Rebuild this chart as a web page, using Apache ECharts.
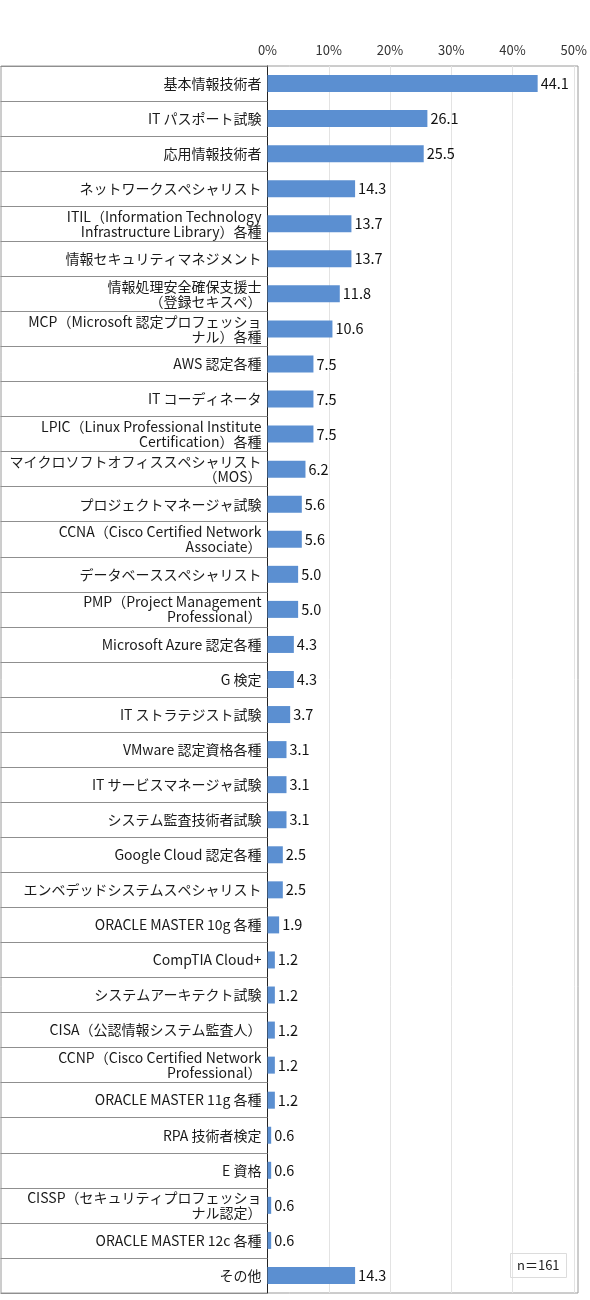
<!DOCTYPE html>
<html>
<head>
<meta charset="utf-8">
<script src="https://cdn.jsdelivr.net/npm/echarts@6/dist/echarts.min.js"></script>
<style>
html,body{margin:0;padding:0;background:#fff;}
#chart{width:590px;height:1300px;}
</style>
</head>
<body>
<div id="chart"></div>
<script>
const categories = [
  '基本情報技術者',
  'IT パスポート試験',
  '応用情報技術者',
  'ネットワークスペシャリスト',
  'ITIL（Information Technology\nInfrastructure Library）各種',
  '情報セキュリティマネジメント',
  '情報処理安全確保支援士\n（登録セキスペ）',
  'MCP（Microsoft 認定プロフェッショ\nナル）各種',
  'AWS 認定各種',
  'IT コーディネータ',
  'LPIC（Linux Professional Institute\nCertification）各種',
  'マイクロソフトオフィススペシャリスト\n（MOS）',
  'プロジェクトマネージャ試験',
  'CCNA（Cisco Certified Network\nAssociate）',
  'データベーススペシャリスト',
  'PMP（Project Management\nProfessional）',
  'Microsoft Azure 認定各種',
  'G 検定',
  'IT ストラテジスト試験',
  'VMware 認定資格各種',
  'IT サービスマネージャ試験',
  'システム監査技術者試験',
  'Google Cloud 認定各種',
  'エンベデッドシステムスペシャリスト',
  'ORACLE MASTER 10g 各種',
  'CompTIA Cloud+',
  'システムアーキテクト試験',
  'CISA（公認情報システム監査人）',
  'CCNP（Cisco Certified Network\nProfessional）',
  'ORACLE MASTER 11g 各種',
  'RPA 技術者検定',
  'E 資格',
  'CISSP（セキュリティプロフェッショ\nナル認定）',
  'ORACLE MASTER 12c 各種',
  'その他'
];
const values = [44.1, 26.1, 25.5, 14.3, 13.7, 13.7, 11.8, 10.6, 7.5, 7.5, 7.5, 6.2, 5.6, 5.6, 5.0, 5.0, 4.3, 4.3, 3.7, 3.1, 3.1, 3.1, 2.5, 2.5, 1.9, 1.2, 1.2, 1.2, 1.2, 1.2, 0.6, 0.6, 0.6, 0.6, 14.3];
const axisTicks = [0, 10, 20, 30, 40, 50];
const sampleNote = 'n＝161';

const FONT = '"Noto Sans CJK JP", "Noto Sans", sans-serif';
const chart = echarts.init(document.getElementById('chart'), null, {renderer: 'canvas'});
chart.setOption({
  animation: false,
  backgroundColor: '#fff',
  textStyle: {fontFamily: FONT},
  title: {
    text: sampleNote,
    left: 510, top: 1253,
    padding: [6, 7],
    borderColor: '#dcdcdc', borderWidth: 1,
    textStyle: {fontSize: 13, fontWeight: 'normal', color: '#222', fontFamily: FONT}
  },
  grid: [
    {left: 267.5, right: 13, top: 66, bottom: 7, show: false, containLabel: false},
    {left: 1, right: 12, top: 66, bottom: 7, show: true, borderColor: '#9a9a9a', borderWidth: 1, backgroundColor: 'transparent', containLabel: false}
  ],
  xAxis: [
    {
      type: 'value', gridIndex: 0, position: 'top',
      min: axisTicks[0], max: axisTicks[axisTicks.length - 1], interval: 10,
      axisLine: {show: false}, axisTick: {show: false},
      axisLabel: {formatter: '{value}%', fontSize: 13, color: '#333', margin: 9, fontFamily: FONT},
      splitLine: {show: true, lineStyle: {color: '#e3e3e3', width: 1}}
    },
    {type: 'value', gridIndex: 1, show: false}
  ],
  yAxis: [
    {
      type: 'category', gridIndex: 0, inverse: true, data: categories,
      axisLine: {show: true, lineStyle: {color: '#222', width: 1}},
      axisTick: {show: true, length: 267, lineStyle: {color: '#8f8f8f', width: 1}},
      axisLabel: {fontSize: 14, color: '#1a1a1a', margin: 6, lineHeight: 15, align: 'right', fontFamily: FONT, interval: 0},
      splitLine: {show: false}
    },
    {type: 'category', gridIndex: 1, show: false, data: ['']}
  ],
  series: [
    {
      type: 'bar', xAxisIndex: 0, yAxisIndex: 0,
      data: values,
      barWidth: 17,
      itemStyle: {color: '#5b8fd1'},
      label: {
        show: true, position: 'right', distance: 3,
        formatter: p => p.value.toFixed(1),
        fontSize: 14.5, color: '#111', fontFamily: FONT
      }
    }
  ]
});
</script>
</body>
</html>
